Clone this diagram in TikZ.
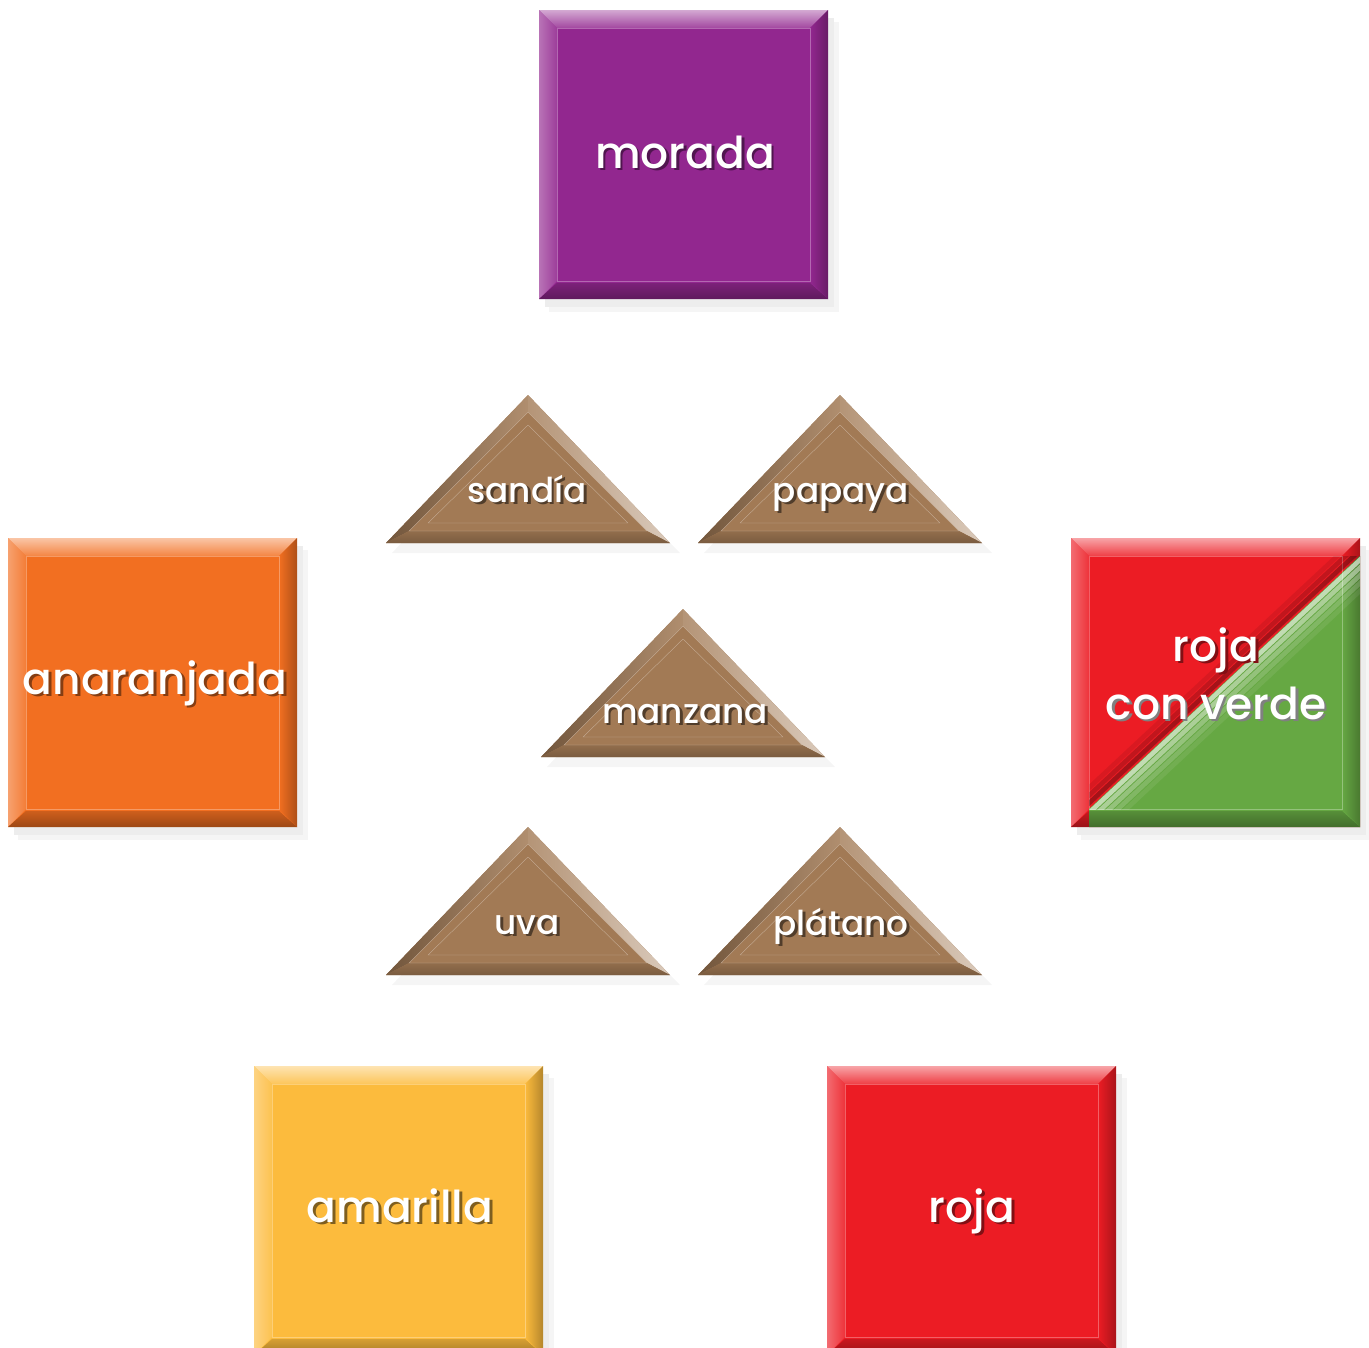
\documentclass[tikz,border=0pt]{standalone}
\usepackage{fontspec}
\newfontfamily\tilefont{Poppins}[UprightFont=* Medium]
\definecolor{morado}{HTML}{92278F}
\definecolor{naranja}{HTML}{F26F21}
\definecolor{amarillo}{HTML}{FCBB3D}
\definecolor{rojo}{HTML}{EC1C24}
\definecolor{verde}{HTML}{66A843}
\definecolor{cafe}{HTML}{A27A55}
\tikzset{
	lbl/.style={anchor=base, inner sep=0pt, text=white, font=\tilefont\fontsize{25}{33}\selectfont},
	small/.style={font=\tilefont\fontsize{19.5}{25}\selectfont},
}
% white text with a soft shadow behind it
\newcommand{\shadowed}[2][black!45]{\makebox[0pt][l]{\kern1.6pt\raisebox{-1.6pt}{\textcolor{#1}{#2}}}#2}
% face of a square tile, local coordinates 0..289
\newcommand{\tileface}[1]{%
	\fill[#1] (0,0) rectangle (289,289);
	\shade[top color=#1!40!white, bottom color=#1!85!white] (0,0) -- (289,0) -- (271,18) -- (18,18) -- cycle;
	\shade[left color=#1!65!white, right color=#1!90!white] (0,0) -- (18,18) -- (18,271) -- (0,289) -- cycle;
	\shade[left color=#1, right color=#1!72!black] (289,0) -- (289,289) -- (271,271) -- (271,18) -- cycle;
	\shade[top color=#1!85!black, bottom color=#1!65!black] (0,289) -- (289,289) -- (271,273) -- (18,273) -- cycle;
	\draw[#1!70!white, very thin] (18,18) rectangle (271,271);
}
% shadow under a tile
\newcommand{\tileshadow}{%
	\fill[black!4] (10,12) rectangle (300,302);
	\fill[black!7] (6,8) rectangle (295,297);
}
% triangle, apex at the origin
\newcommand{\brick}{%
	\fill[black!4] (4,8) -- (-136,158) -- (152,158) -- cycle;
	\fill[cafe] (0,0) -- (-142,148) -- (142,148) -- cycle;
	\shade[left color=cafe!70!black, right color=cafe!85!white] (0,0) -- (-142,148) -- (-119,136) -- (0,17) -- cycle;
	\shade[left color=cafe!80!white, right color=cafe!40!white] (0,0) -- (142,148) -- (119,136) -- (0,17) -- cycle;
	\shade[top color=cafe!90!black, bottom color=cafe!75!black] (-142,148) -- (142,148) -- (119,136) -- (-119,136) -- cycle;
	\draw[cafe!60!white, very thin] (0,17) -- (-119,136) -- (119,136) -- cycle;
	\draw[cafe!60!white, very thin] (0,30) -- (-100,128) -- (100,128) -- cycle;
}
\begin{document}
\begin{tikzpicture}[x=0.02cm, y=-0.02cm]
	\useasboundingbox (0,0) rectangle (1369,1347);

	% square tiles
	\foreach \x/\y/\c in {539/10/morado, 8/538/naranja, 254/1066/amarillo, 827/1066/rojo}{
		\begin{scope}[shift={(\x,\y)}]
			\tileshadow
			\tileface{\c}
		\end{scope}
	}

	% red with green
	\begin{scope}[shift={(1071,538)}]
		\tileshadow
		\tileface{rojo}
		\begin{scope}
			\clip (18,289) -- (18,271) -- (289,18) -- (289,289) -- cycle;
			\tileface{verde}
		\end{scope}
		\begin{scope}
			\clip (18,18) rectangle (289,271);
			\foreach \o/\op in {2/0.6, 6/0.45, 10/0.3, 14/0.18, 18/0.08}
				\draw[white, opacity=\op, line width=2.6pt] (18+\o,271+\o) -- (289+\o,18+\o);
			\foreach \o/\op in {3/0.3, 7/0.18, 11/0.08}
				\draw[black, opacity=\op, line width=2.6pt] (18-\o,271-\o) -- (289-\o,18-\o);
		\end{scope}
	\end{scope}

	% triangles
	\foreach \x/\y in {528/395, 840/395, 683/609, 528/827, 840/827}{
		\begin{scope}[shift={(\x,\y)}]
			\brick
		\end{scope}
	}

	% colour names
	\node[lbl] (morada) at (685,168) {\shadowed[morado!55!black]{morada}};
	\node[lbl] (anaranjada) at (155,694) {\shadowed[naranja!55!black]{anaranjada}};
	\node[lbl] (amarilla) at (400,1222) {\shadowed[amarillo!50!black]{amarilla}};
	\node[lbl] (roja) at (972,1222) {\shadowed[rojo!55!black]{roja}};
	\node[lbl] (rojaverdeA) at (1216,661) {\shadowed[rojo!55!black]{roja}};
	\node[lbl] (rojaverdeB) at (1216,719) {\shadowed[black!50]{con verde}};

	% fruit names
	\node[lbl, small] (sandia) at (527,502) {\shadowed[cafe!50!black]{sandía}};
	\node[lbl, small] (papaya) at (841,502) {\shadowed[cafe!50!black]{papaya}};
	\node[lbl, small] (manzana) at (685,723) {\shadowed[cafe!50!black]{manzana}};
	\node[lbl, small] (uva) at (527,934) {\shadowed[cafe!50!black]{uva}};
	\node[lbl, small] (platano) at (841,935) {\shadowed[cafe!50!black]{plátano}};
\end{tikzpicture}
\end{document}
